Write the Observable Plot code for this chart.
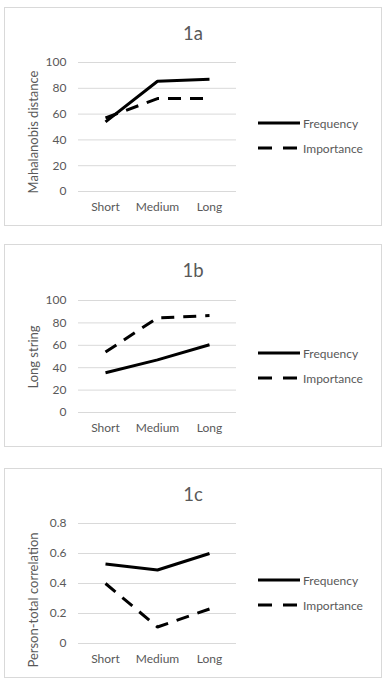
<!DOCTYPE html>
<html>
<head>
<meta charset="utf-8">
<script src="https://cdn.jsdelivr.net/npm/d3@7"></script>
<script src="https://cdn.jsdelivr.net/npm/@observablehq/plot@0.6"></script>
<style>
  html, body { margin: 0; padding: 0; background: #fff; }
  #root { position: relative; width: 386px; height: 679px; overflow: hidden; font-family: Lato, "Open Sans", sans-serif; color: #595959; }
  .box { position: absolute; border: 1px solid #d9d9d9; box-sizing: border-box; }
  .title { position: absolute; font-size: 18.5px; transform: translate(-50%, -50%); white-space: nowrap; }
  .ylab { position: absolute; font-size: 13px; white-space: nowrap; transform: translate(-50%, -50%) rotate(-90deg); }
  .leg { position: absolute; font-size: 12px; white-space: nowrap; }
  .leg svg { position: absolute; left: 0; top: 0; overflow: visible; }
  .leg span { position: absolute; left: 45px; top: 0; transform: translateY(-50%); }
  .plot { position: absolute; left: 0; }
</style>
</head>
<body>
<div id="root"></div>
<script>
// ---- data ----
const categories = ["Short", "Medium", "Long"];
const seriesNames = ["Frequency", "Importance"];

const mahalanobisFrequency = [54, 85.5, 87];
const mahalanobisImportance = [57, 72, 72];

const longStringFrequency = [35.5, 47, 60.5];
const longStringImportance = [54, 84.5, 86.5];

const personTotalFrequency = [0.53, 0.49, 0.60];
const personTotalImportance = [0.40, 0.11, 0.23];

const ticks100 = [0, 20, 40, 60, 80, 100];
const ticksCorr = [0, 0.2, 0.4, 0.6, 0.8];
const tickLabelsCorr = ["0", "0.2", "0.4", "0.6", "0.8"];

const panelTitles = ["1a", "1b", "1c"];
const yLabels = ["Mahalanobis distance", "Long string", "Person-total correlation"];

// ---- layout ----
const panels = [
  {title: panelTitles[0], ylabel: yLabels[0], freq: mahalanobisFrequency, imp: mahalanobisImportance,
   domain: [0, 100], ticks: ticks100, fmt: d => String(d),
   boxTop: 7, boxBottom: 226, titleY: 33, gridTop: 62, gridBottom: 191, labY: 132, legY: 123},
  {title: panelTitles[1], ylabel: yLabels[1], freq: longStringFrequency, imp: longStringImportance,
   domain: [0, 100], ticks: ticks100, fmt: d => String(d),
   boxTop: 244, boxBottom: 447, titleY: 270, gridTop: 300, gridBottom: 412, labY: 357, legY: 353},
  {title: panelTitles[2], ylabel: yLabels[2], freq: personTotalFrequency, imp: personTotalImportance,
   domain: [0, 0.8], ticks: ticksCorr, fmt: d => tickLabelsCorr[ticksCorr.indexOf(d)],
   boxTop: 468, boxBottom: 678, titleY: 494, gridTop: 523, gridBottom: 643, labY: 600, legY: 580}
];

const root = document.getElementById("root");
const dash = "13,9";
const mt = 20, mb = 40, ml = 78, plotRight = 236, W = 386;

for (const p of panels) {
  const box = document.createElement("div");
  box.className = "box";
  box.style.left = "4px"; box.style.width = "378px";
  box.style.top = p.boxTop + "px"; box.style.height = (p.boxBottom - p.boxTop) + "px";
  root.appendChild(box);

  const rows = [];
  categories.forEach((c, i) => {
    rows.push({cat: c, series: seriesNames[0], value: p.freq[i]});
    rows.push({cat: c, series: seriesNames[1], value: p.imp[i]});
  });

  const h = p.gridBottom - p.gridTop;
  const chart = Plot.plot({
    width: W,
    height: mt + h + mb,
    marginTop: mt, marginBottom: mb, marginLeft: ml, marginRight: W - plotRight,
    style: {fontFamily: "Lato, 'Open Sans', sans-serif", fontSize: "12px", color: "#595959", background: "transparent", overflow: "visible"},
    x: {type: "point", domain: categories, padding: 0.5, label: null},
    y: {domain: p.domain, label: null},
    marks: [
      Plot.gridY(p.ticks, {stroke: "#d9d9d9", strokeOpacity: 1, strokeWidth: 1}),
      Plot.axisY(p.ticks, {tickSize: 0, tickPadding: 12, tickFormat: p.fmt, label: null, fill: "#595959", fontSize: 12}),
      Plot.axisX({tickSize: 0, tickPadding: 11, label: null, fill: "#595959", fontSize: 12}),
      Plot.line(rows.filter(d => d.series === seriesNames[0]), {x: "cat", y: "value", stroke: "#000", strokeWidth: 3, strokeLinecap: "butt", strokeLinejoin: "miter"}),
      Plot.line(rows.filter(d => d.series === seriesNames[1]), {x: "cat", y: "value", stroke: "#000", strokeWidth: 3, strokeDasharray: dash, strokeLinecap: "butt", strokeLinejoin: "miter"})
    ]
  });
  chart.classList.add("plot");
  chart.style.top = (p.gridTop - mt) + "px";
  root.appendChild(chart);

  const t = document.createElement("div");
  t.className = "title"; t.textContent = p.title;
  t.style.left = "193px"; t.style.top = p.titleY + "px";
  root.appendChild(t);

  const yl = document.createElement("div");
  yl.className = "ylab"; yl.textContent = p.ylabel;
  yl.style.left = "33px"; yl.style.top = p.labY + "px";
  root.appendChild(yl);

  seriesNames.forEach((s, i) => {
    const lg = document.createElement("div");
    lg.className = "leg";
    lg.style.left = "258px"; lg.style.top = (p.legY + i * 25) + "px";
    lg.innerHTML = `<svg width="42" height="1"><line x1="0" x2="42" y1="0" y2="0" stroke="#000" stroke-width="3" ${i ? `stroke-dasharray="14,11"` : ""}/></svg><span></span>`;
    lg.querySelector("span").textContent = s;
    root.appendChild(lg);
  });
}
</script>
</body>
</html>
